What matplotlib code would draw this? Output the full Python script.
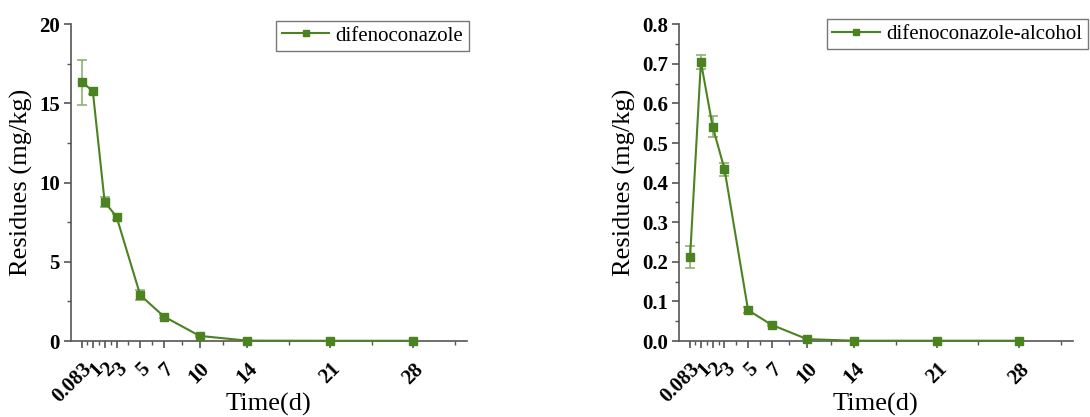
import matplotlib
matplotlib.use("Agg")
import matplotlib.pyplot as plt

plt.rcParams['font.family'] = ['Liberation Serif', 'DejaVu Serif']

# sampling times (days)
days = [0.083, 1, 2, 3, 5, 7, 10, 14, 21, 28]
day_labels = ['0.083', '1', '2', '3', '5', '7', '10', '14', '21', '28']

# parent compound residues (mg/kg)
parent_mean = [16.35, 15.78, 8.78, 7.85, 2.90, 1.55, 0.33, 0.03, 0.02, 0.02]
parent_err = [1.42, 0.20, 0.30, 0.20, 0.30, 0.08, 0.05, 0.01, 0.01, 0.01]

# metabolite residues (mg/kg)
alcohol_mean = [0.212, 0.705, 0.541, 0.434, 0.078, 0.041, 0.005, 0.001, 0.001, 0.001]
alcohol_err = [0.028, 0.018, 0.027, 0.016, 0.008, 0.003, 0.001, 0.0005, 0.0005, 0.0005]

green = '#4b8321'
axis_gray = '#555555'
minor_days = [0.54, 1.5, 2.5, 4, 6, 8.5, 12, 17.5, 24.5, 31.5]


def style_axis(ax, ylim, yticks, yminor, fmt):
    ax.set_xlim(-0.85, 32.5)
    ax.set_ylim(*ylim)
    ax.spines['top'].set_visible(False)
    ax.spines['right'].set_visible(False)
    for side in ('left', 'bottom'):
        ax.spines[side].set_linewidth(1.2)
        ax.spines[side].set_color(axis_gray)
    ax.set_xticks(days)
    ax.set_xticklabels(day_labels, rotation=45, ha='right', rotation_mode='anchor',
                       fontsize=15, fontweight='bold')
    ax.set_xticks(minor_days, minor=True)
    ax.set_yticks(yticks)
    ax.set_yticklabels([fmt.format(v) for v in yticks], fontsize=15, fontweight='bold')
    ax.set_yticks(yminor, minor=True)
    ax.tick_params(which='major', direction='out', length=5, width=1.2, color=axis_gray)
    ax.tick_params(which='minor', direction='out', length=3, width=1.0, color=axis_gray)
    ax.tick_params(axis='x', which='major', pad=8)
    ax.tick_params(axis='y', which='major', pad=3)
    ax.set_xlabel('Time(d)', fontsize=19)
    ax.xaxis.set_label_coords(0.5, -0.165)
    ax.set_ylabel('Residues (mg/kg)', fontsize=19, labelpad=4)


fig = plt.figure(figsize=(10.9, 4.17), dpi=100)
ax1 = fig.add_axes([0.065, 0.182, 0.363, 0.76])
ax2 = fig.add_axes([0.623, 0.182, 0.361, 0.76])

ax1.errorbar(days, parent_mean, yerr=parent_err, color=green, marker='s', markersize=6,
             linewidth=1.5, ecolor='#8fb072', elinewidth=1.2, capsize=3.5, capthick=1.2,
             label='difenoconazole', clip_on=False, zorder=3)
style_axis(ax1, (0, 20), [0, 5, 10, 15, 20], [2.5, 7.5, 12.5, 17.5], '{:.0f}')

ax2.errorbar(days, alcohol_mean, yerr=alcohol_err, color=green, marker='s', markersize=6,
             linewidth=1.5, ecolor='#8fb072', elinewidth=1.2, capsize=3.5, capthick=1.2,
             label='difenoconazole-alcohol', clip_on=False, zorder=3)
style_axis(ax2, (0, 0.8), [0.0, 0.1, 0.2, 0.3, 0.4, 0.5, 0.6, 0.7, 0.8],
           [0.05, 0.15, 0.25, 0.35, 0.45, 0.55, 0.65, 0.75], '{:.1f}')

for ax, anchor in [(ax1, (0.430, 0.950)), (ax2, (0.998, 0.954))]:
    handles, labels = ax.get_legend_handles_labels()
    handles = [h[0] for h in handles]
    leg = ax.legend(handles, labels, loc='upper right', bbox_to_anchor=anchor,
                    bbox_transform=fig.transFigure, borderaxespad=0, fontsize=15,
                    frameon=True, fancybox=False, edgecolor=axis_gray, borderpad=0.25,
                    handlelength=2.3, handletextpad=0.3, markerscale=0.8)
    leg.get_frame().set_linewidth(1.0)

fig.savefig('out.png', dpi=100)
